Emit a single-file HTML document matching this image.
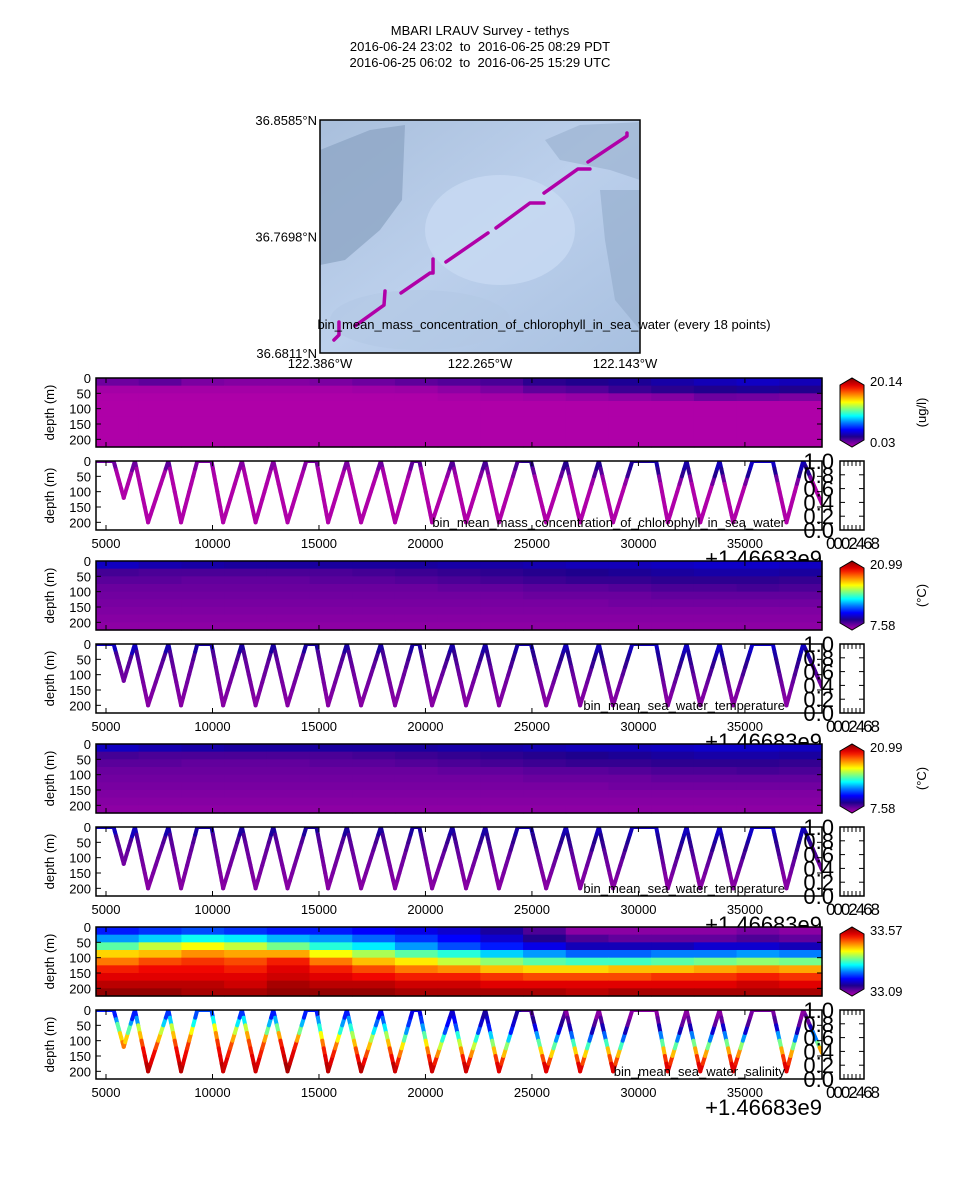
<!DOCTYPE html>
<html><head><meta charset="utf-8">
<style>
html,body{margin:0;padding:0;background:#fff;}
svg{display:block;font-family:"Liberation Sans","DejaVu Sans",sans-serif;}
</style></head>
<body>
<svg id="fig" width="960" height="1200" viewBox="0 0 960 1200" xmlns="http://www.w3.org/2000/svg">
<rect width="960" height="1200" fill="#fff"/>
<g font-size="13" text-anchor="middle" fill="#000">
<text x="480" y="35">MBARI LRAUV Survey - tethys</text>
<text x="480" y="51">2016-06-24 23:02&#160; to&#160; 2016-06-25 08:29 PDT</text>
<text x="480" y="67">2016-06-25 06:02&#160; to&#160; 2016-06-25 15:29 UTC</text>
</g>
<g id="map"></g>
<g id="panels"></g>
</svg>
<script>
// ---------- data ----------
const T0 = 4530, T1 = 38620;      // time offset range (s) relative to 1.46683e9
const DMAX = 225;                 // depth range (m)
const xTicks = [5000,10000,15000,20000,25000,30000,35000];
const yTicks = [0,50,100,150,200];
// dive profile vertices (time offset, depth)
const diveT = [4530,5357,5833,6357,6976,7929,8524,9286,9952,10500,11381,12024,12857,13524,14405,14881,15429,16310,16976,17905,18571,19405,19714,20310,21262,21905,22810,23452,24333,24952,25667,26595,27262,28143,28810,29714,30833,31381,32262,32905,33810,34452,35357,36310,36952,37738,38620];
const diveD = [0,0,120,0,200,0,200,0,0,200,0,200,0,200,0,0,200,0,200,0,200,0,0,200,0,200,0,200,0,0,200,0,200,0,200,0,0,200,0,200,0,200,0,0,200,0,140];
// heatmap grids: rows = 25 m depth bins (0-225), 17 time columns
const chlRows = [
 [1.5,1.8,1.2,1.0,1.0,1.2,1.5,1.8,2.0,2.2,2.8,3.0,3.2,3.5,3.8,4.0,3.8],
 [0.3,0.3,0.3,0.3,0.3,0.3,0.4,0.5,0.8,1.2,1.8,2.0,2.5,2.8,3.0,3.2,3.0],
 [0.1,0.1,0.1,0.1,0.1,0.1,0.1,0.1,0.2,0.3,0.4,0.6,0.8,1.0,1.5,1.4,1.2],
 [0.05,0.05,0.05,0.05,0.05,0.05,0.05,0.05,0.05,0.05,0.05,0.05,0.05,0.05,0.05,0.05,0.05],
 [0.05,0.05,0.05,0.05,0.05,0.05,0.05,0.05,0.05,0.05,0.05,0.05,0.05,0.05,0.05,0.05,0.05],
 [0.05,0.05,0.05,0.05,0.05,0.05,0.05,0.05,0.05,0.05,0.05,0.05,0.05,0.05,0.05,0.05,0.05],
 [0.05,0.05,0.05,0.05,0.05,0.05,0.05,0.05,0.05,0.05,0.05,0.05,0.05,0.05,0.05,0.05,0.05],
 [0.05,0.05,0.05,0.05,0.05,0.05,0.05,0.05,0.05,0.05,0.05,0.05,0.05,0.05,0.05,0.05,0.05],
 [0.05,0.05,0.05,0.05,0.05,0.05,0.05,0.05,0.05,0.05,0.05,0.05,0.05,0.05,0.05,0.05,0.05]];
const tempRows = [
 [10.2,10.0,9.9,9.8,9.8,9.8,9.8,9.8,9.9,9.9,10.0,10.1,10.1,10.2,10.3,10.3,10.2],
 [9.1,9.0,9.0,9.0,9.0,9.0,9.1,9.2,9.3,9.4,9.5,9.6,9.7,9.8,9.9,9.9,9.8],
 [8.8,8.8,8.7,8.7,8.7,8.8,8.8,8.9,9.0,9.1,9.2,9.3,9.3,9.4,9.4,9.4,9.3],
 [8.6,8.6,8.6,8.6,8.6,8.6,8.6,8.6,8.7,8.7,8.8,8.8,8.9,9.0,9.0,9.1,9.0],
 [8.5,8.5,8.5,8.5,8.5,8.5,8.5,8.5,8.5,8.5,8.6,8.6,8.6,8.7,8.7,8.7,8.7],
 [8.4,8.4,8.4,8.4,8.4,8.4,8.4,8.4,8.4,8.4,8.4,8.4,8.5,8.5,8.5,8.5,8.5],
 [8.3,8.3,8.3,8.3,8.3,8.3,8.3,8.3,8.3,8.3,8.3,8.3,8.3,8.3,8.3,8.3,8.3],
 [8.2,8.2,8.2,8.2,8.2,8.2,8.2,8.2,8.2,8.2,8.2,8.2,8.2,8.2,8.2,8.2,8.2],
 [8.1,8.1,8.1,8.1,8.1,8.1,8.1,8.1,8.1,8.1,8.1,8.1,8.1,8.1,8.1,8.1,8.1]];
const salRows = [
 [33.22,33.23,33.24,33.23,33.22,33.22,33.21,33.20,33.19,33.17,33.14,33.11,33.11,33.11,33.11,33.12,33.11],
 [33.27,33.29,33.31,33.30,33.28,33.27,33.25,33.23,33.21,33.19,33.16,33.14,33.13,33.13,33.13,33.14,33.13],
 [33.34,33.38,33.40,33.38,33.35,33.32,33.30,33.27,33.24,33.22,33.20,33.18,33.18,33.18,33.19,33.19,33.18],
 [33.42,33.43,33.45,33.44,33.44,33.40,33.37,33.34,33.32,33.29,33.27,33.25,33.25,33.26,33.26,33.27,33.26],
 [33.46,33.48,33.49,33.48,33.50,33.46,33.43,33.41,33.38,33.36,33.34,33.33,33.33,33.34,33.35,33.36,33.35],
 [33.50,33.51,33.51,33.50,33.52,33.50,33.48,33.46,33.45,33.43,33.42,33.42,33.43,33.43,33.44,33.45,33.44],
 [33.52,33.52,33.52,33.52,33.53,33.52,33.51,33.50,33.50,33.49,33.48,33.48,33.48,33.49,33.49,33.50,33.49],
 [33.54,33.54,33.54,33.53,33.55,33.54,33.54,33.53,33.53,33.52,33.52,33.52,33.52,33.52,33.52,33.53,33.52],
 [33.56,33.56,33.55,33.55,33.56,33.56,33.56,33.55,33.55,33.55,33.55,33.54,33.55,33.55,33.55,33.55,33.55]];
// map track (lon, lat) segments
const trackLon = [[-122.3878,-122.3834,-122.3834],[-122.3694,-122.3440,-122.3431],[-122.3291,-122.3038,-122.3011,-122.3011],[-122.2898,-122.2530],[-122.2460,-122.2163,-122.2040],[-122.2040,-122.1743,-122.1638],[-122.1655,-122.1314,-122.1314]];
const trackLat = [[36.6910,36.6948,36.7047],[36.7017,36.7176,36.7283],[36.7268,36.7420,36.7420,36.7527],[36.7504,36.7725],[36.7763,36.7953,36.7953],[36.8029,36.8212,36.8212],[36.8265,36.8463,36.8486]];

// ---------- helpers ----------
const NS='http://www.w3.org/2000/svg';
function mk(tag, attrs, parent){const e=document.createElementNS(NS,tag);for(const k in attrs)e.setAttribute(k,attrs[k]);(parent||document.getElementById('fig')).appendChild(e);return e;}
const cstops=[[0,[176,0,168]],[0.07,[112,0,160]],[0.15,[30,0,140]],[0.25,[0,0,255]],[0.35,[0,120,255]],[0.45,[0,255,255]],[0.55,[128,255,128]],[0.65,[255,255,0]],[0.78,[255,110,0]],[0.88,[240,0,0]],[1,[128,0,0]]];
function cmap(v){v=Math.max(0,Math.min(1,v));for(let i=1;i<cstops.length;i++){if(v<=cstops[i][0]){const a=cstops[i-1],b=cstops[i];const f=(v-a[0])/(b[0]-a[0]);const c=a[1].map((x,j)=>Math.round(x+(b[1][j]-x)*f));return `rgb(${c.join(',')})`;}}return 'rgb(128,0,0)';}

const PX0=96, PX1=822;
function xs(t){return PX0+(t-T0)/(T1-T0)*(PX1-PX0);}

function gridVal(rows,t,d){const nc=rows[0].length;let c=Math.floor((t-T0)/(T1-T0)*nc);c=Math.max(0,Math.min(nc-1,c));let r=Math.floor(d/25);r=Math.max(0,Math.min(rows.length-1,r));return rows[r][c];}

function axesFrame(g,y0,h,withXLabels){
  const ys=d=>y0+d/DMAX*h;
  yTicks.forEach(v=>{
    const t=mk('text',{x:91,y:ys(v)+5,'font-size':13,'text-anchor':'end'},g);t.textContent=v;
    
    
    mk('line',{x1:PX0,x2:PX0+5,y1:ys(v),y2:ys(v),stroke:'#000'},g);
    mk('line',{x1:PX1,x2:PX1-5,y1:ys(v),y2:ys(v),stroke:'#000'},g);
  });
  xTicks.forEach(v=>{
    mk('line',{x1:xs(v),x2:xs(v),y1:y0,y2:y0+5,stroke:'#000'},g);
    mk('line',{x1:xs(v),x2:xs(v),y1:y0+h,y2:y0+h-5,stroke:'#000'},g);
    if(withXLabels){const t=mk('text',{x:xs(v),y:y0+h+18,'font-size':13,'text-anchor':'middle'},g);t.textContent=v;
      
      }
  });
  mk('rect',{x:PX0,y:y0,width:PX1-PX0,height:h,fill:'none',stroke:'#000','stroke-width':1.5},g);
  const yl=mk('text',{x:0,y:0,'font-size':13,'text-anchor':'middle',transform:`translate(54,${y0+h/2}) rotate(-90)`},g);yl.textContent='depth (m)';
  
  
}

function heatmap(rows,vmin,vmax,y0,h,name,cbMax,cbMin,unit){
  const g=mk('g',{},document.getElementById('panels'));
  
  
  const nc=rows[0].length;
  rows.forEach((row,r)=>row.forEach((v,c)=>{
    const x0=xs(T0+(T1-T0)*c/nc), x1=xs(T0+(T1-T0)*(c+1)/nc);
    const ya=y0+r*25/DMAX*h, yb=y0+Math.min(DMAX,(r+1)*25)/DMAX*h;
    const cell=mk('rect',{x:x0,y:ya,width:x1-x0+0.6,height:yb-ya+0.6,fill:cmap((v-vmin)/(vmax-vmin))},g);
    
    
  }));
  axesFrame(g,y0,h,false);
  const cb=mk('g',{},g);
  
  
  const cx=840,cw=24,top=y0+7,bot=y0+h-7;
  const defsId='grad'+name;
  const defs=mk('defs',{},cb);const lg=mk('linearGradient',{id:defsId,x1:0,y1:1,x2:0,y2:0},defs);
  for(let i=0;i<=20;i++)mk('stop',{offset:i/20,'stop-color':cmap(i/20)},lg);
  mk('polygon',{points:`${cx},${top} ${cx+cw/2},${y0} ${cx+cw},${top} ${cx+cw},${bot} ${cx+cw/2},${y0+h} ${cx},${bot}`,fill:`url(#${defsId})`,stroke:'#000','stroke-width':1},cb);
  const t1=mk('text',{x:870,y:y0+8,'font-size':13},cb);t1.textContent=cbMax;
  const t2=mk('text',{x:870,y:y0+h,'font-size':13},cb);t2.textContent=cbMin;
  if(unit){const u=mk('text',{x:0,y:0,'font-size':13,'text-anchor':'middle',transform:`translate(926,${y0+h/2}) rotate(-90)`},cb);u.textContent=unit;}
}

function profile(rows,vmin,vmax,y0,h,name,label){
  const g=mk('g',{},document.getElementById('panels'));
  
  
  mk('rect',{x:PX0,y:y0,width:PX1-PX0,height:h,fill:'#fff'},g);
  const off=mk('text',{x:PX1,y:y0+h+36,'font-size':22,'text-anchor':'end'},g);off.textContent='+1.46683e9';
  
  
  const clipId='clip'+name;
  const cp=mk('clipPath',{id:clipId},g);mk('rect',{x:PX0,y:y0,width:PX1-PX0,height:h},cp);
  const lg=mk('g',{'clip-path':`url(#${clipId})`},g);
  const ys=d=>y0+d/DMAX*h;
  for(let i=0;i<diveT.length-1;i++){
    const n=8;
    for(let k=0;k<n;k++){
      const ta=diveT[i]+(diveT[i+1]-diveT[i])*k/n, tb=diveT[i]+(diveT[i+1]-diveT[i])*(k+1)/n;
      const da=diveD[i]+(diveD[i+1]-diveD[i])*k/n, db=diveD[i]+(diveD[i+1]-diveD[i])*(k+1)/n;
      const v=gridVal(rows,(ta+tb)/2,(da+db)/2);
      const s=mk('line',{x1:xs(ta),y1:ys(da),x2:xs(tb),y2:ys(db),stroke:cmap((v-vmin)/(vmax-vmin)),'stroke-width':4,'stroke-linecap':'round'},lg);
      
      
    }
  }
  axesFrame(g,y0,h,true);
  const lab=mk('text',{x:785,y:y0+h-3,'font-size':13,'text-anchor':'end'},g);lab.textContent=label;
  
  
  const ax=mk('g',{},g);
  
  
  ['0.0','0.2','0.4','0.6','0.8','1.0'].forEach((s,i)=>{const t=mk('text',{x:834,y:y0+h-i*h/5+8,'font-size':22,'text-anchor':'end'},ax);t.textContent=s;});
  mk('rect',{x:840,y:y0,width:24,height:h,fill:'none',stroke:'#000','stroke-width':1.5},ax);
  for(let i=1;i<5;i++){mk('line',{x1:840,x2:845,y1:y0+i*h/5,y2:y0+i*h/5,stroke:'#000'},ax);mk('line',{x1:864,x2:859,y1:y0+i*h/5,y2:y0+i*h/5,stroke:'#000'},ax);}
  for(let i=1;i<6;i++){mk('line',{x1:840+i*4,x2:840+i*4,y1:y0,y2:y0+5,stroke:'#000'},ax);mk('line',{x1:840+i*4,x2:840+i*4,y1:y0+h,y2:y0+h-5,stroke:'#000'},ax);}
  const gl=mk('text',{x:826,y:y0+h+19,'font-size':17},ax);gl.textContent='0002468';
  gl.setAttribute('textLength','54');
}

// ---------- map ----------
(function(){
  const g=document.getElementById('map');
  const MX0=320,MX1=640,MY0=120,MY1=353;
  const LON0=-122.400,LON1=-122.120,LAT0=36.6811,LAT1=36.8585;
  const mx=l=>MX0+(l-LON0)/(LON1-LON0)*(MX1-MX0);
  const my=l=>MY1-(l-LAT0)/(LAT1-LAT0)*(MY1-MY0);
  const defs=mk('defs',{},g);
  const bg=mk('linearGradient',{id:'mapbg',x1:0,y1:0,x2:1,y2:1},defs);
  mk('stop',{offset:0,'stop-color':'#a9bfdc'},bg);mk('stop',{offset:0.5,'stop-color':'#bcd0ec'},bg);mk('stop',{offset:1,'stop-color':'#a8c0e0'},bg);
  mk('rect',{x:MX0,y:MY0,width:MX1-MX0,height:MY1-MY0,fill:'url(#mapbg)'},g);
  mk('path',{d:`M320 150 L370 130 L405 125 L402 200 L380 230 L345 260 L320 265 Z`,fill:'#8ea6c6',opacity:0.8},g);
  mk('path',{d:`M545 140 L580 125 L640 122 L640 180 L610 170 L560 160 Z`,fill:'#9db3d1',opacity:0.7},g);
  mk('path',{d:`M600 190 L640 190 L640 330 L615 300 L605 240 Z`,fill:'#97afcf',opacity:0.7},g);
  mk('ellipse',{cx:500,cy:230,rx:75,ry:55,fill:'#c8daf2',opacity:0.8},g);
  mk('ellipse',{cx:420,cy:320,rx:90,ry:30,fill:'#b3c8e5',opacity:0.6},g);
  trackLon.forEach((seg,si)=>{
    const pts=seg.map((l,i)=>`${mx(l)},${my(trackLat[si][i])}`).join(' ');
    const p=mk('polyline',{points:pts,fill:'none',stroke:'#b000a8','stroke-width':3.5,'stroke-linecap':'round','stroke-linejoin':'round'},g);
    
    
  });
  mk('rect',{x:MX0,y:MY0,width:MX1-MX0,height:MY1-MY0,fill:'none',stroke:'#000','stroke-width':1.5},g);
  [['36.8585°N',MY0+5],['36.7698°N',(MY0+MY1)/2+5],['36.6811°N',MY1+5]].forEach(a=>{const t=mk('text',{x:317,y:a[1],'font-size':13,'text-anchor':'end'},g);t.textContent=a[0];
    
    });
  [['122.386°W',320],['122.265°W',480],['122.143°W',625]].forEach(a=>{const t=mk('text',{x:a[1],y:368,'font-size':13,'text-anchor':'middle'},g);t.textContent=a[0];
    
    });
  const tt=mk('text',{x:544,y:329,'font-size':13,'text-anchor':'middle'},g);tt.textContent='bin_mean_mass_concentration_of_chlorophyll_in_sea_water (every 18 points)';
  
  
})();

// ---------- panels ----------
profile(chlRows,0.03,20.14,461,69,'chl','bin_mean_mass_concentration_of_chlorophyll_in_sea_water');
heatmap(chlRows,0.03,20.14,378,69,'chl','20.14','0.03','(ug/l)');
profile(tempRows,7.58,20.99,644,69,'temp1','bin_mean_sea_water_temperature');
heatmap(tempRows,7.58,20.99,561,69,'temp1','20.99','7.58','(°C)');
profile(tempRows,7.58,20.99,827,69,'temp2','bin_mean_sea_water_temperature');
heatmap(tempRows,7.58,20.99,744,69,'temp2','20.99','7.58','(°C)');
profile(salRows,33.09,33.57,1010,69,'sal','bin_mean_sea_water_salinity');
heatmap(salRows,33.09,33.57,927,69,'sal','33.57','33.09','');
</script>
</body></html>
